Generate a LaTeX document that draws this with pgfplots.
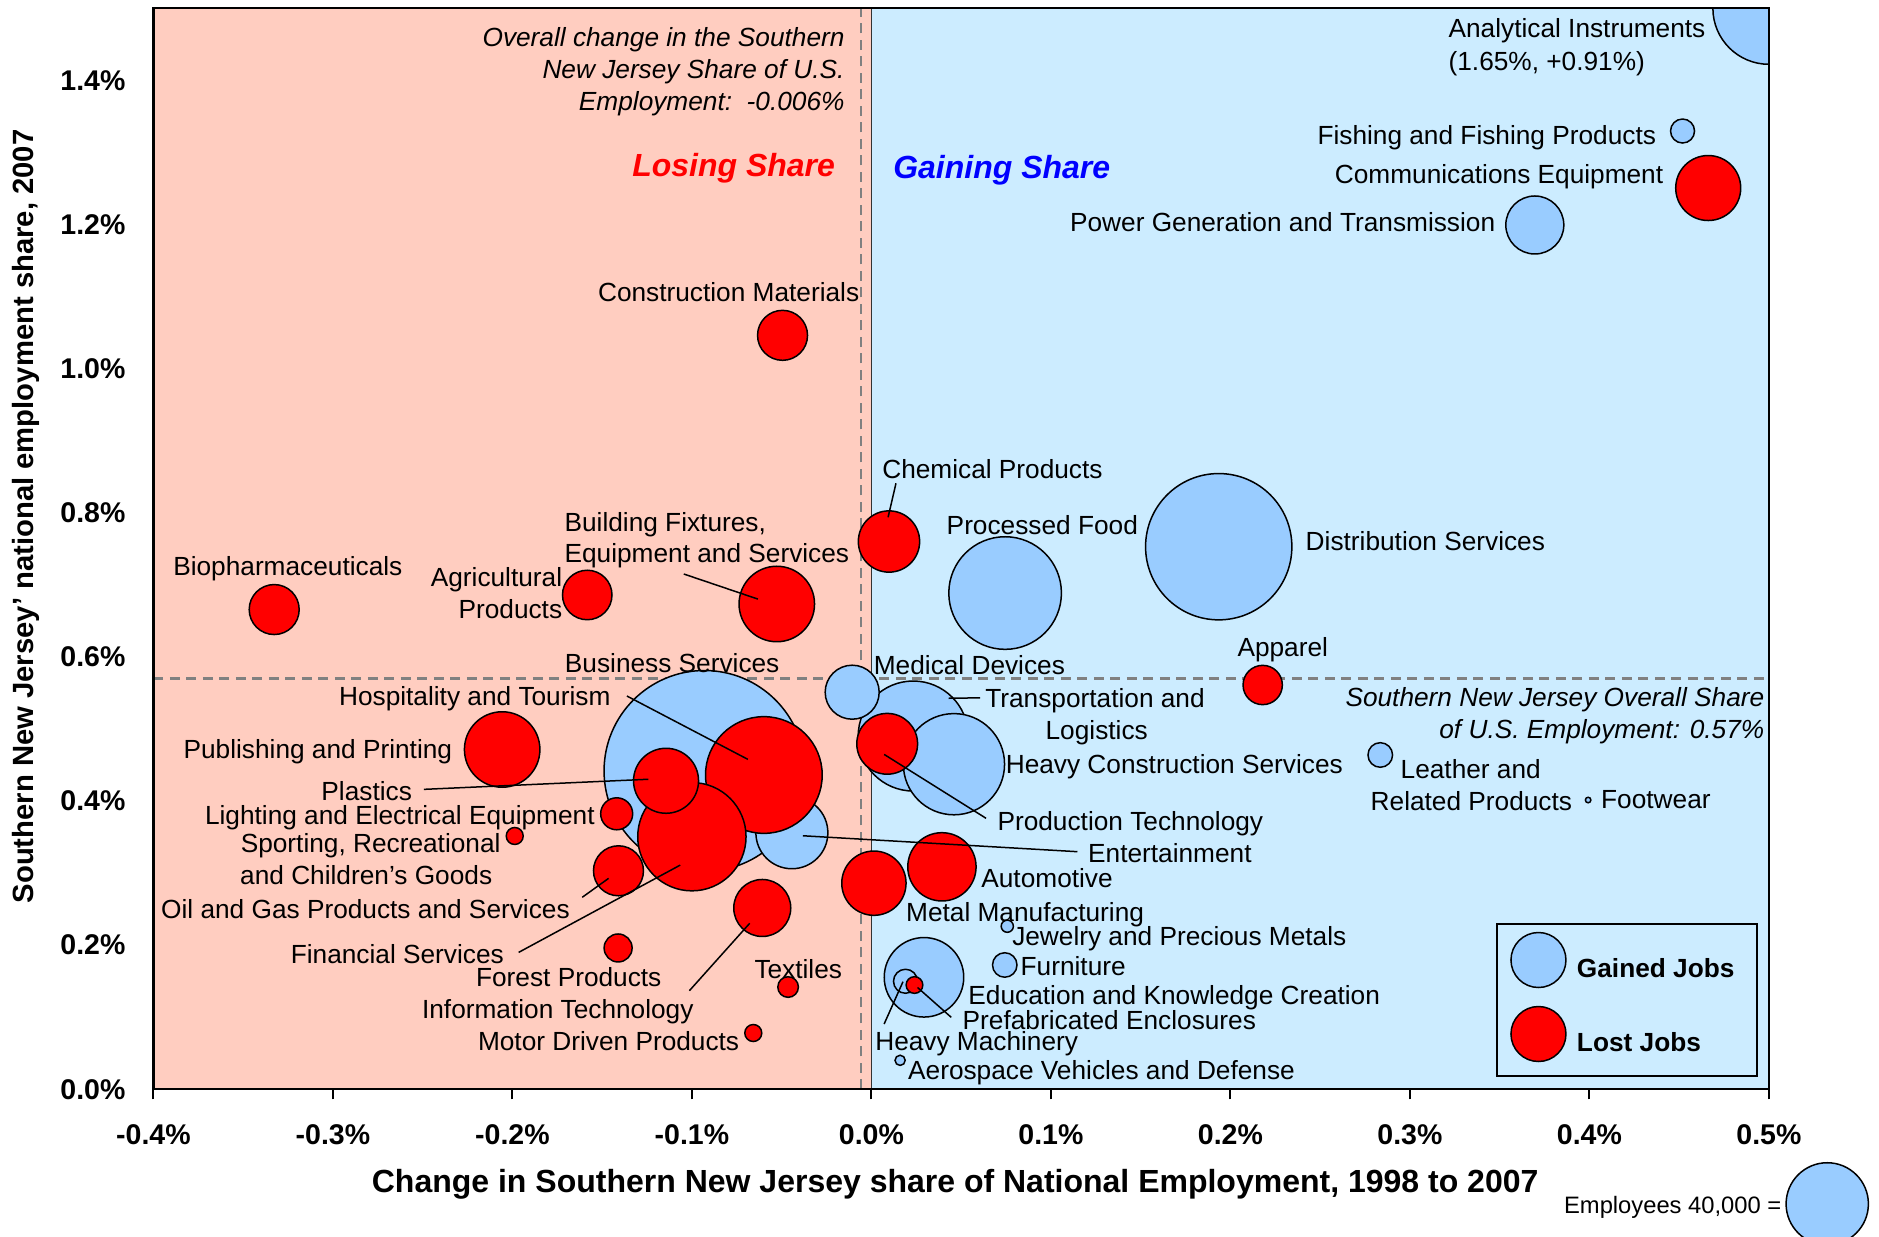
\documentclass[border=0pt]{standalone}
\usepackage{pgfplots}
\pgfplotsset{compat=1.18}
\usepackage{pgfplotstable}
\usepackage{fontspec}
\setmainfont{Liberation Sans}
\definecolor{bgred}{RGB}{255,205,192}
\definecolor{bgblue}{RGB}{204,236,255}
\definecolor{bblue}{RGB}{153,204,255}
\definecolor{dashgray}{RGB}{128,128,128}

% Gained jobs (blue): change in share (%), 2007 share (%), employees
\pgfplotstableread{
x y emp
-0.0930 0.4418 238100
0.1935 0.7529 126400
0.0745 0.6886 74880
0.5000 1.5000 74080
0.0233 0.4902 71460
0.0460 0.4511 60480
0.0293 0.1554 37320
-0.0443 0.3560 30610
0.3696 1.1993 19870
-0.0107 0.5510 17220
0.2835 0.4639 3574
0.0743 0.1725 3545
0.0190 0.1499 3402
0.4519 1.3297 3402
0.0757 0.2263 879
0.0160 0.0402 614
0.3993 0.4014 179
}\gained

% Lost jobs (red)
\pgfplotstableread{
x y emp
-0.0599 0.4361 80430
-0.1000 0.3505 69270
-0.0527 0.6734 33660
-0.2057 0.4715 33660
0.0393 0.3087 27550
-0.1144 0.4281 24950
0.4662 1.2506 24950
0.0014 0.2860 24420
0.0098 0.7601 22190
0.0088 0.4794 21830
-0.0608 0.2516 19190
-0.3327 0.6657 14760
-0.0495 1.0462 14760
-0.1409 0.3032 14760
-0.1583 0.6859 14470
0.2180 0.5610 9121
-0.1419 0.3823 6047
-0.1411 0.1961 4630
-0.0464 0.1419 2506
-0.1987 0.3515 1707
-0.0658 0.0781 1707
0.0240 0.1447 1647
}\lost

\newcommand{\lf}{\fontsize{10.5}{12.6}\selectfont}
\tikzset{
  lab/.style={font=\lf, inner sep=0pt, yshift=-0.7pt},
  lead/.style={black, line width=0.6pt},
}
\pgfplotsset{
  bub/.style={scatter, only marks, mark=*, forget plot,
    scatter/use mapped color={draw=black, fill=#1},
    visualization depends on={16.46*sqrt(\thisrow{emp}/40000) \as \rad},
    scatter/@pre marker code/.append style={/tikz/mark size=\rad},
    mark options={line width=0.6pt}},
}

\begin{document}
\begin{tikzpicture}
\begin{axis}[
  at={(0,0)}, anchor=south west,
  scale only axis, width=646.2pt, height=432.4pt,
  xmin=-0.4, xmax=0.5, ymin=0, ymax=1.5,
  axis on top,
  clip marker paths=true,
  axis line style={line width=0.9pt, black},
  xtick={-0.4,-0.3,-0.2,-0.1,0,0.1,0.2,0.3,0.4,0.5},
  xticklabels={-0.4\%,-0.3\%,-0.2\%,-0.1\%,0.0\%,0.1\%,0.2\%,0.3\%,0.4\%,0.5\%},
  ytick={0,0.2,0.4,0.6,0.8,1.0,1.2,1.4},
  yticklabels={0.0\%,0.2\%,0.4\%,0.6\%,0.8\%,1.0\%,1.2\%,1.4\%},
  tick align=outside, xtick pos=bottom, ytick pos=left,
  major tick length=4pt,
  ytick style={draw=none},
  xtick style={line width=0.8pt, black},
  tick label style={font=\bfseries\fontsize{11.4}{13}\selectfont},
  xticklabel style={anchor=base, yshift=-17.9pt},
  yticklabel style={anchor=east, inner sep=0pt, xshift=-7pt},
  xlabel={Change in Southern New Jersey share of National Employment, 1998 to 2007},
  ylabel={Southern New Jersey’ national employment share, 2007},
  every axis x label/.style={at={([yshift=-37.8pt]rel axis cs:0.4963,0)}, anchor=center, font=\bfseries\fontsize{12.8}{15}\selectfont},
  every axis y label/.style={at={([xshift=-50.8pt]rel axis cs:0,0.5299)}, rotate=90, anchor=center, font=\bfseries\fontsize{11.7}{14}\selectfont},
  legend style={at={(rel axis cs:0.9935,0.0116)}, anchor=south east,
    draw=black, line width=0.8pt, fill=none,
    font=\bfseries\fontsize{10.5}{12.6}\selectfont,
    inner xsep=5pt, inner ysep=3.1pt, row sep=7pt,
    /tikz/every odd column/.append style={column sep=4.1pt},
    nodes={inner sep=0pt}},
  legend cell align=left,
]
% quadrant backgrounds
\fill[bgred] (axis cs:-0.4,0) rectangle (axis cs:0,1.5);
\fill[bgblue] (axis cs:0,0) rectangle (axis cs:0.5,1.5);
\draw[black!80, line width=0.6pt] (axis cs:0,0) -- (axis cs:0,1.5);
\draw[dashgray, line width=0.9pt, dash pattern=on 4pt off 2.6pt] (axis cs:-0.006,0) -- (axis cs:-0.006,1.5);
\draw[dashgray, line width=0.9pt, dash pattern=on 4pt off 2.6pt] (axis cs:-0.4,0.57) -- (axis cs:0.5,0.57);

% bubbles
\addplot[bub=bblue] table[x=x, y=y] {\gained};
\addplot[bub=red] table[x=x, y=y] {\lost};

% legend
\addlegendimage{legend image code/.code={\draw[fill=bblue, line width=0.6pt] (11pt,3.8pt) circle (11pt);}}
\addlegendentry{Gained Jobs\hspace*{4.15pt}}
\addlegendimage{legend image code/.code={\path (0pt,-9.4pt) -- (0pt,-9.4pt); \draw[fill=red, line width=0.6pt] (11pt,3.8pt) circle (11pt);}}
\addlegendentry{Lost Jobs}

% leader lines
\draw[lead] (axis cs:0.0137,0.8409) -- (axis cs:0.0093,0.7937);
\draw[lead] (axis cs:-0.1045,0.715) -- (axis cs:-0.0632,0.6802);
\draw[lead] (axis cs:-0.1362,0.5457) -- (axis cs:-0.0688,0.4578);
\draw[lead] (axis cs:0.043,0.5426) -- (axis cs:0.0606,0.5432);
\draw[lead] (axis cs:-0.2493,0.4162) -- (axis cs:-0.1242,0.4302);
\draw[lead] (axis cs:0.0071,0.4647) -- (axis cs:0.0639,0.376);
\draw[lead] (axis cs:-0.0382,0.3518) -- (axis cs:0.1148,0.3297);
\draw[lead] (axis cs:-0.1611,0.2664) -- (axis cs:-0.1464,0.2927);
\draw[lead] (axis cs:-0.1965,0.19) -- (axis cs:-0.1065,0.3111);
\draw[lead] (axis cs:-0.1014,0.1368) -- (axis cs:-0.0678,0.2303);
\draw[lead] (axis cs:0.0257,0.1413) -- (axis cs:0.0445,0.0998);
\draw[lead] (axis cs:0.0176,0.1493) -- (axis cs:0.0071,0.0906);

% annotations
\node[lab, anchor=base east, font=\itshape\lf] at (axis cs:-0.0147,1.449) {Overall change in the Southern};
\node[lab, anchor=base east, font=\itshape\lf] at (axis cs:-0.0147,1.405) {New Jersey Share of U.S.};
\node[lab, anchor=base east, font=\itshape\lf] at (axis cs:-0.0147,1.3611) {Employment:\ \ -0.006\%};
\node[lab, anchor=base east, font=\bfseries\itshape\fontsize{12.8}{15}\selectfont, text=red] at (axis cs:-0.02,1.2687) {Losing Share};
\node[lab, anchor=base west, font=\bfseries\itshape\fontsize{12.8}{15}\selectfont, text=blue] at (axis cs:0.0119,1.2662) {Gaining Share};
\node[lab, anchor=base east, font=\itshape\lf] at (axis cs:0.4977,0.5333) {Southern New Jersey Overall Share};
\node[lab, anchor=base east, font=\itshape\lf] at (axis cs:0.4977,0.4892) {of U.S. Employment: 0.57\%};

% labels
\node[lab, anchor=base east] at (axis cs:-0.0065,1.0951) {Construction Materials};
\node[lab, anchor=base west] at (axis cs:0.0058,0.85) {Chemical Products};
\node[lab, anchor=base west] at (axis cs:0.0417,0.7724) {Processed Food};
\node[lab, anchor=base west] at (axis cs:0.2417,0.7506) {Distribution Services};
\node[lab, anchor=base west] at (axis cs:-0.1712,0.777) {Building Fixtures,};
\node[lab, anchor=base west] at (axis cs:-0.1712,0.7335) {Equipment and Services};
\node[lab, anchor=base west] at (axis cs:-0.3892,0.716) {Biopharmaceuticals};
\node[lab, anchor=base east] at (axis cs:-0.172,0.700) {Agricultural};
\node[lab, anchor=base east] at (axis cs:-0.172,0.6551) {Products};
\node[lab, anchor=base west] at (axis cs:-0.171,0.5808) {Business Services};
\node[lab, anchor=base west] at (axis cs:0.0011,0.578) {Medical Devices};
\node[lab, anchor=base east] at (axis cs:-0.1451,0.5346) {Hospitality and Tourism};
\node[lab, anchor=base west] at (axis cs:0.0632,0.5318) {Transportation and};
\node[lab, anchor=base west] at (axis cs:0.0968,0.4884) {Logistics};
\node[lab, anchor=base west] at (axis cs:0.2037,0.6026) {Apparel};
\node[lab, anchor=base east] at (axis cs:-0.2333,0.4614) {Publishing and Printing};
\node[lab, anchor=base west] at (axis cs:0.0746,0.4406) {Heavy Construction Services};
\node[lab, anchor=base west] at (axis cs:0.2946,0.434) {Leather and};
\node[lab, anchor=base west] at (axis cs:0.2779,0.3899) {Related Products};
\node[lab, anchor=base west] at (axis cs:0.4063,0.3921) {Footwear};
\node[lab, anchor=base east] at (axis cs:-0.2557,0.4037) {Plastics};
\node[lab, anchor=base east] at (axis cs:-0.1539,0.370) {Lighting and Electrical Equipment};
\node[lab, anchor=base west] at (axis cs:-0.3516,0.3309) {Sporting, Recreational};
\node[lab, anchor=base west] at (axis cs:-0.3519,0.2867) {and Children's Goods};
\node[lab, anchor=base west] at (axis cs:0.070,0.3622) {Production Technology};
\node[lab, anchor=base west] at (axis cs:0.1205,0.3173) {Entertainment};
\node[lab, anchor=base west] at (axis cs:0.061,0.2825) {Automotive};
\node[lab, anchor=base east] at (axis cs:-0.1678,0.2394) {Oil and Gas Products and Services};
\node[lab, anchor=base west] at (axis cs:0.0191,0.235) {Metal Manufacturing};
\node[lab, anchor=base west] at (axis cs:0.0782,0.2025) {Jewelry and Precious Metals};
\node[lab, anchor=base east] at (axis cs:-0.2045,0.1771) {Financial Services};
\node[lab, anchor=base west] at (axis cs:0.0829,0.161) {Furniture};
\node[lab, anchor=base west] at (axis cs:-0.2205,0.1447) {Forest Products};
\node[lab, anchor=base west] at (axis cs:-0.0654,0.1563) {Textiles};
\node[lab, anchor=base west] at (axis cs:-0.2506,0.1008) {Information Technology};
\node[lab, anchor=base east] at (axis cs:-0.0734,0.0569) {Motor Driven Products};
\node[lab, anchor=base west] at (axis cs:0.0538,0.1206) {Education and Knowledge Creation};
\node[lab, anchor=base west] at (axis cs:0.0506,0.086) {Prefabricated Enclosures};
\node[lab, anchor=base west] at (axis cs:0.0019,0.0569) {Heavy Machinery};
\node[lab, anchor=base west] at (axis cs:0.0202,0.0166) {Aerospace Vehicles and Defense};
\node[lab, anchor=base west] at (axis cs:0.3213,1.4616) {Analytical Instruments};
\node[lab, anchor=base west] at (axis cs:0.3213,1.4167) {(1.65\%, +0.91\%)};
\node[lab, anchor=base east] at (axis cs:0.4374,1.3134) {Fishing and Fishing Products};
\node[lab, anchor=base east] at (axis cs:0.4414,1.2594) {Communications Equipment};
\node[lab, anchor=base east] at (axis cs:0.3478,1.1922) {Power Generation and Transmission};
\end{axis}

% bubble size key (outside the plot area)
\begin{axis}[
  at={(0,0)}, anchor=south west,
  scale only axis, width=646.2pt, height=432.4pt,
  xmin=-0.4, xmax=0.5, ymin=0, ymax=1.5,
  hide axis, clip=false,
]
\addplot[only marks, mark=*, mark size=16.46pt, mark options={fill=bblue, draw=black, line width=0.6pt}] coordinates {(0.5325,-0.159)};
\node[anchor=base east, inner sep=0pt, font=\fontsize{9.5}{11}\selectfont] at (axis cs:0.5072,-0.1723) {Employees 40,000 =};
\end{axis}

\pgfresetboundingbox
\path[use as bounding box] (-61.36pt,-59.08pt) rectangle (690.24pt,435.72pt);
\end{tikzpicture}
\end{document}
